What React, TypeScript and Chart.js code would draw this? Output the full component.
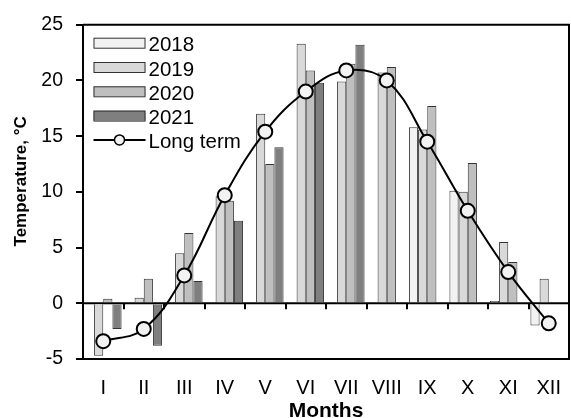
import React, { useEffect, useRef } from "react";
import { Chart, registerables } from "chart.js";

Chart.register(...registerables);

const months = ["I", "II", "III", "IV", "V", "VI", "VII", "VIII", "IX", "X", "XI", "XII"];
const series2018: (number | null)[] = [null, null, null, null, null, null, null, null, 15.8, 10.1, 0.2, -2.0];
const series2019: (number | null)[] = [-4.7, 0.5, 4.5, 9.6, 17.0, 23.3, 19.9, 20.7, 15.6, 10.0, 5.5, 2.2];
const series2020: (number | null)[] = [0.4, 2.2, 6.3, 9.2, 12.5, 20.9, 21.5, 21.2, 17.7, 12.6, 3.7, null];
const series2021: (number | null)[] = [-2.3, -3.8, 2.0, 7.4, 14.0, 19.8, 23.2, null, null, null, null, null];
const longTerm = [-3.4, -2.3, 2.5, 9.7, 15.4, 19.0, 20.9, 20.0, 14.5, 8.3, 2.8, -1.8];
const yTicks = [-5, 0, 5, 10, 15, 20, 25];
const seriesLabels = ["2018", "2019", "2020", "2021", "Long term"];
const seriesColors = ["#f2f2f2", "#d9d9d9", "#bfbfbf", "#7f7f7f"];
const yTitle = "Temperature, °C";
const xTitle = "Months";

const FONT = "'Liberation Sans', Arial, sans-serif";

const decorPlugin = {
  id: "decor",
  beforeDatasetsDraw(chart: any) {
    const { ctx, chartArea, scales } = chart;
    const { left, right, top, bottom } = chartArea;
    const x = scales.x;
    const y = scales.y;
    const y0 = y.getPixelForValue(0);
    ctx.save();
    ctx.strokeStyle = "#000";
    ctx.lineWidth = 2;
    ctx.beginPath();
    ctx.moveTo(left, y0);
    ctx.lineTo(right, y0);
    ctx.stroke();
    const step = x.getPixelForValue(1) - x.getPixelForValue(0);
    const start = x.getPixelForValue(0) - step / 2;
    for (let i = 1; i <= months.length; i++) {
      const px = Math.round(start + i * step);
      ctx.beginPath();
      ctx.moveTo(px, y0);
      ctx.lineTo(px, y0 + 6);
      ctx.stroke();
    }
    ctx.beginPath();
    ctx.moveTo(left, top);
    ctx.lineTo(right, top);
    ctx.lineTo(right, bottom);
    ctx.stroke();
    ctx.restore();
  },
  afterDraw(chart: any) {
    const { ctx, chartArea } = chart;
    const { left, right, top, bottom } = chartArea;
    ctx.save();
    // legend
    const ds = chart.data.datasets;
    const bx = left + 10.5;
    const bw = 52;
    ds.forEach((d: any, i: number) => {
      const cy = top + 18 + 24.3 * i;
      if (d.type === "line") {
        ctx.strokeStyle = "#000";
        ctx.lineWidth = 2;
        ctx.beginPath();
        ctx.moveTo(bx, cy);
        ctx.lineTo(bx + bw, cy);
        ctx.stroke();
        ctx.beginPath();
        ctx.arc(bx + bw / 2, cy, 5, 0, Math.PI * 2);
        ctx.fillStyle = d.pointBackgroundColor;
        ctx.fill();
        ctx.lineWidth = 1.5;
        ctx.stroke();
      } else {
        ctx.fillStyle = d.backgroundColor;
        ctx.fillRect(bx, cy - 5, bw, 10);
        ctx.strokeStyle = "#333";
        ctx.lineWidth = 1;
        ctx.strokeRect(bx + 0.5, cy - 5 + 0.5, bw - 1, 10);
      }
      ctx.fillStyle = "#000";
      ctx.font = `20.5px ${FONT}`;
      ctx.textAlign = "left";
      ctx.textBaseline = "alphabetic";
      ctx.fillText(d.label, bx + bw + 3, cy + 8.5);
    });
    // y title
    ctx.save();
    ctx.translate(21, (top + bottom) / 2 - 10.5);
    ctx.rotate(-Math.PI / 2);
    ctx.font = `bold 17px ${FONT}`;
    ctx.textAlign = "center";
    ctx.textBaseline = "middle";
    ctx.fillStyle = "#000";
    ctx.fillText(yTitle, 0, 0);
    ctx.restore();
    // x title
    ctx.font = `bold 21px ${FONT}`;
    ctx.textAlign = "center";
    ctx.textBaseline = "alphabetic";
    ctx.fillStyle = "#000";
    ctx.fillText(xTitle, (left + right) / 2, 417);
    ctx.restore();
  },
};

export default function App() {
  const ref = useRef<HTMLCanvasElement | null>(null);
  useEffect(() => {
    if (!ref.current) return;
    const barSeries = [series2018, series2019, series2020, series2021];
    const chart = new Chart(ref.current, {
      type: "bar",
      data: {
        labels: months,
        datasets: [
          ...barSeries.map((s, i) => ({
            type: "bar" as const,
            label: seriesLabels[i],
            data: s,
            backgroundColor: seriesColors[i],
            borderColor: "#333",
            borderWidth: 1,
            barPercentage: 1,
            categoryPercentage: 0.905,
            order: 1,
          })),
          {
            type: "line" as const,
            label: seriesLabels[4],
            data: longTerm,
            borderColor: "#000",
            borderWidth: 2,
            tension: 0.4,
            pointRadius: 7,
            pointBorderWidth: 2,
            pointBackgroundColor: "#f2f2f2",
            pointBorderColor: "#000",
            order: 0,
          },
        ] as any,
      },
      options: {
        animation: false,
        responsive: false,
        devicePixelRatio: 1,
        layout: { padding: { left: 0, top: 20, right: 2, bottom: 0 } },
        plugins: { legend: { display: false }, tooltip: { enabled: false } },
        scales: {
          x: {
            offset: true,
            grid: { display: false },
            border: { display: true, color: "#000", width: 2 },
            ticks: {
              color: "#000",
              font: { family: FONT, size: 20 },
              padding: 9,
              maxRotation: 0,
              autoSkip: false,
            },
            afterFit: (s: any) => {
              s.height = 61;
            },
          },
          y: {
            min: -5,
            max: 25,
            afterBuildTicks: (s: any) => {
              s.ticks = yTicks.map((v) => ({ value: v }));
            },
            grid: { drawOnChartArea: false, drawTicks: true, tickLength: 7, color: "#000", lineWidth: 2 },
            border: { display: true, color: "#000", width: 2 },
            ticks: { color: "#000", font: { family: FONT, size: 19.5 }, padding: 13 },
            afterFit: (s: any) => {
              s.width = 83;
            },
          },
        },
      } as any,
      plugins: [decorPlugin],
    });
    return () => chart.destroy();
  }, []);
  return (
    <div style={{ position: "fixed", left: 0, top: 0, width: 571, height: 418, overflow: "hidden", background: "#fff" }}>
      <canvas ref={ref} width={578} height={420} style={{ display: "block", width: 578, height: 420 }} />
    </div>
  );
}
